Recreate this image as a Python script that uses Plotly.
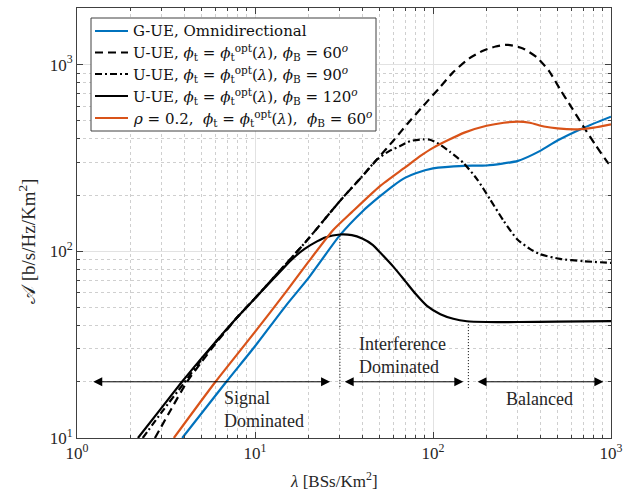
import numpy as np
import plotly.graph_objects as go

# ---------------- data ----------------
lam_blue = [3.9, 6.9, 10, 15, 20, 30, 40, 50, 60, 70, 80, 100, 150, 200, 300, 400, 500, 700, 1000]
A_blue   = [10, 20, 31, 51.5, 72, 122, 163, 196, 225, 248, 262, 278, 287, 288, 305, 345, 392, 458, 526]

lam_d60 = [2.74, 3.4, 4.15, 5, 6, 8, 10, 13, 16.8, 20, 30, 40, 48.4, 60, 71.5, 88, 110, 129.5, 160, 191, 225, 264, 320, 384, 450, 517, 600, 697, 820, 962, 1000]
A_d60   = [10, 14.4, 20, 25.5, 32, 44.6, 56, 74, 97, 117, 186, 252, 310, 392, 479, 600, 760, 908, 1080, 1186, 1250, 1276, 1220, 1091, 920, 738, 590, 469, 370, 298, 288]

lam_d90 = [2.34, 3, 3.96, 5, 6, 8, 10, 13, 16.8, 20, 30, 40, 48.4, 57, 65.3, 74.3, 87.9, 96.2, 109, 125, 147.5, 177, 209, 250, 297, 350, 399, 517, 700, 1000]
A_d90   = [10, 13.8, 19.5, 26.3, 32.5, 44.6, 56, 74, 97, 117, 186, 252, 310, 345, 366, 389, 398, 396, 374, 340, 299, 243, 190, 145, 116, 103, 96.5, 91, 88.5, 86.7]

lam_s120 = [2.2, 3, 3.89, 5, 6, 8, 10, 13, 16, 19, 22.3, 25, 30, 35, 40, 46, 50, 60, 70, 80, 92.5, 110, 130, 155, 200, 300, 500, 1000]
A_s120   = [10, 14.6, 20, 26.7, 32.7, 44.6, 56, 73, 90, 103, 113, 119, 123, 122, 117, 108, 99.5, 82.5, 69, 59, 51, 46, 43.5, 42.2, 41.8, 41.8, 42, 42.3]

lam_rho = [3.5, 6, 10, 15, 20, 27.5, 35, 50, 70, 85, 100, 150, 200, 250, 300, 350, 420, 500, 650, 800, 1000]
A_rho   = [10, 20, 37, 61, 88, 130, 162, 222, 282, 324, 358, 432, 470, 488, 495, 488, 466, 455, 450, 460, 479]

names = [
    "G-UE, Omnidirectional",
    "U-UE, <i>ϕ</i><sub>t</sub> = <i>ϕ</i><sub>t</sub><sup>opt</sup>(<i>λ</i>), <i>ϕ</i><sub>B</sub> = 60<sup><i>o</i></sup>",
    "U-UE, <i>ϕ</i><sub>t</sub> = <i>ϕ</i><sub>t</sub><sup>opt</sup>(<i>λ</i>), <i>ϕ</i><sub>B</sub> = 90<sup><i>o</i></sup>",
    "U-UE, <i>ϕ</i><sub>t</sub> = <i>ϕ</i><sub>t</sub><sup>opt</sup>(<i>λ</i>), <i>ϕ</i><sub>B</sub> = 120<sup><i>o</i></sup>",
    "<i>ρ</i> = 0.2,  <i>ϕ</i><sub>t</sub> = <i>ϕ</i><sub>t</sub><sup>opt</sup>(<i>λ</i>),  <i>ϕ</i><sub>B</sub> = 60<sup><i>o</i></sup>",
]

x_title = "<i>λ</i> [BSs/Km<sup>2</sup>]"
y_title = "𝒜 [b/s/Hz/Km<sup>2</sup>]"

# region boundaries / annotations
arrow_level = 20
signal_arrow = [1.21, 26.4]
interf_arrow = [31.3, 148]
balanced_arrow = [174.5, 906]
vline1 = dict(x=30, y=[18.8, 123])
vline2 = dict(x=158, y=[18.5, 42])

region_texts = ["Signal<br>Dominated", "Interference<br>Dominated", "Balanced"]
region_text_pos = [(6.5, 14.3), (37.4, 27.5), (394, 16.2)]

xtick_vals = [1, 10, 100, 1000]
xtick_text = ["10<sup>0</sup>", "10<sup>1</sup>", "10<sup>2</sup>", "10<sup>3</sup>"]
ytick_vals = [10, 100, 1000]
ytick_text = ["10<sup>1</sup>", "10<sup>2</sup>", "10<sup>3</sup>"]

# ---------------- figure ----------------
FONT = "Liberation Serif, serif"
LEGFONT = "DejaVu Serif, serif"
BLUE = "#0072BD"
ORANGE = "#D95319"
TXT = "#262626"

W, H = 637, 491
ML, MR, MT, MB = 77, 26, 8, 53
PW, PH = W - ML - MR, H - MT - MB


def px(xp):
    return (xp - ML) / PW


def py(yp):
    return (H - MB - yp) / PH


fig = go.Figure()

styles = [
    dict(color=BLUE, width=2.2, dash="solid"),
    dict(color="black", width=2.2, dash="8px,5px"),
    dict(color="black", width=2.2, dash="7px,3px,2px,3px"),
    dict(color="black", width=2.2, dash="solid"),
    dict(color=ORANGE, width=2.2, dash="solid"),
]
series = [(lam_blue, A_blue), (lam_d60, A_d60), (lam_d90, A_d90), (lam_s120, A_s120), (lam_rho, A_rho)]
for (lx, ay), ln, nm in zip(series, styles, names):
    fig.add_trace(go.Scatter(x=lx, y=ay, mode="lines", name=nm, showlegend=False,
                             line=dict(shape="spline", smoothing=0.6, **ln)))

for v in (vline1, vline2):
    fig.add_trace(go.Scatter(x=[v["x"], v["x"]], y=v["y"], mode="lines", showlegend=False,
                             line=dict(color="black", width=1, dash="1px,2px")))

for a, b in (signal_arrow, interf_arrow, balanced_arrow):
    fig.add_annotation(x=np.log10(b), y=np.log10(arrow_level), ax=np.log10(a), ay=np.log10(arrow_level),
                       xref="x", yref="y", axref="x", ayref="y", text="", showarrow=True,
                       arrowhead=2, startarrowhead=2, arrowside="end+start", arrowsize=1.8,
                       startarrowsize=1.8, arrowwidth=1, arrowcolor="black", standoff=0, startstandoff=0)

for txt, (tx, ty) in zip(region_texts, region_text_pos):
    fig.add_annotation(x=np.log10(tx), y=np.log10(ty), xref="x", yref="y", text=txt, showarrow=False,
                       xanchor="left" if txt != "Balanced" else "center", align="left",
                       font=dict(family=FONT, size=18, color=TXT))

# axis titles as annotations (positioned like the reference)
fig.add_annotation(x=px(27), y=py(242), xref="paper", yref="paper", text=y_title, textangle=-90,
                   showarrow=False, xanchor="center", yanchor="middle",
                   font=dict(family=FONT, size=19, color=TXT))
fig.add_annotation(x=px(334), y=py(480), xref="paper", yref="paper", text=x_title,
                   showarrow=False, xanchor="center", yanchor="middle",
                   font=dict(family=FONT, size=17, color=TXT))

# manual legend box (reference layout)
leg_box = dict(x0=91, x1=376, y0=18, y1=131)
leg_rows = [31, 52.5, 74, 96, 118]
shapes = [dict(type="rect", xref="paper", yref="paper",
               x0=px(leg_box["x0"]), x1=px(leg_box["x1"]), y0=py(leg_box["y1"]), y1=py(leg_box["y0"]),
               line=dict(color="#404040", width=1), fillcolor="white", layer="above")]
for yrow, ln in zip(leg_rows, styles):
    shapes.append(dict(type="line", xref="paper", yref="paper", x0=px(95), x1=px(128), y0=py(yrow), y1=py(yrow),
                       line=dict(color=ln["color"], width=ln["width"], dash=ln["dash"]), layer="above"))
for yrow, nm in zip(leg_rows, names):
    fig.add_annotation(x=px(131), y=py(yrow), xref="paper", yref="paper", text=nm, showarrow=False,
                       xanchor="left", yanchor="middle", align="left",
                       font=dict(family=LEGFONT, size=15, color="#111"))

axis_common = dict(
    type="log", showline=True, linecolor="#404040", linewidth=1, mirror="ticks",
    ticks="inside", ticklen=6, tickcolor="#404040", tickwidth=1,
    showgrid=True, gridcolor="#e2e2e2", gridwidth=1, zeroline=False,
    minor=dict(ticks="inside", ticklen=3, tickcolor="#404040", dtick="D1",
               showgrid=True, gridcolor="#cfcfcf", griddash="dot", gridwidth=1),
    tickfont=dict(family=FONT, size=17, color=TXT),
)

fig.update_xaxes(range=[0, 3], tickvals=xtick_vals, ticktext=xtick_text, **axis_common)
fig.update_yaxes(range=[1, 3.303], tickvals=ytick_vals, ticktext=ytick_text, **axis_common)

fig.update_layout(
    width=W, height=H,
    margin=dict(l=ML, r=MR, t=MT, b=MB),
    paper_bgcolor="white", plot_bgcolor="white",
    showlegend=False,
    shapes=shapes,
)

fig.write_html("out.html")
